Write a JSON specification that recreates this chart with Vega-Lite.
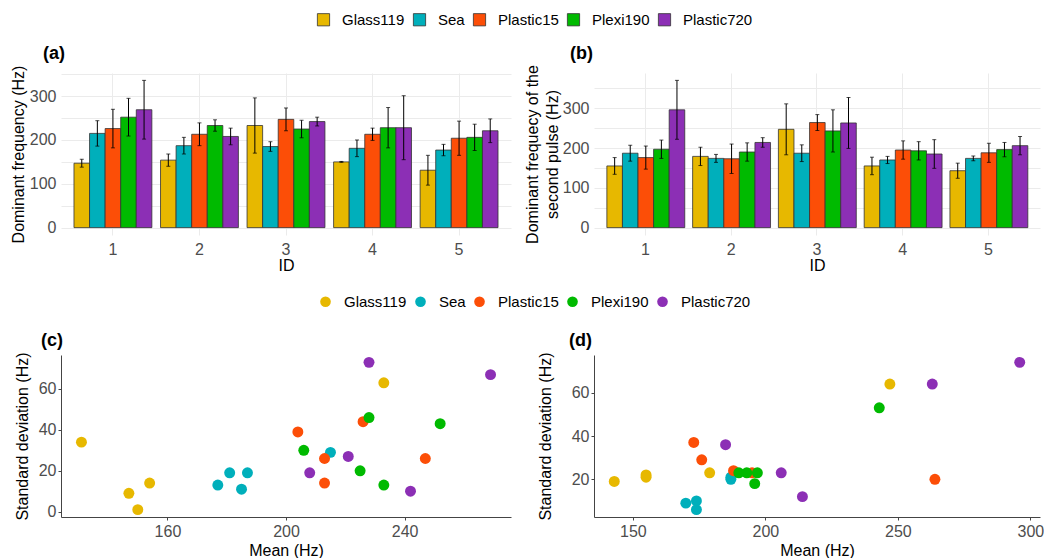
{
  "$schema": "https://vega.github.io/schema/vega-lite/v6.json",
  "background": "white",
  "padding": {"left": 10, "top": 12, "right": 0, "bottom": 0},
  "config": {
    "font": "Liberation Sans",
    "view": {"stroke": null},
    "axis": {"labelFont": "Liberation Sans", "labelFontSize": 16, "labelColor": "#4d4d4d", "titleFont": "Liberation Sans", "titleFontSize": 16, "titleFontWeight": "normal", "titleColor": "black"},
    "legend": {"padding": 0, "labelFont": "Liberation Sans", "labelFontSize": 15, "labelColor": "black"},
    "title": {"font": "Liberation Sans", "fontSize": 18, "fontWeight": "bold", "color": "black", "anchor": "start", "frame": "group"}
  },
  "datasets": {
    "first": [
      {"ID": 1, "material": "Glass119", "mean": 147, "sd": 9},
      {"ID": 2, "material": "Glass119", "mean": 154, "sd": 14},
      {"ID": 3, "material": "Glass119", "mean": 233, "sd": 63},
      {"ID": 4, "material": "Glass119", "mean": 150, "sd": 1},
      {"ID": 5, "material": "Glass119", "mean": 131, "sd": 34},
      {"ID": 1, "material": "Sea", "mean": 215, "sd": 29},
      {"ID": 2, "material": "Sea", "mean": 187, "sd": 19},
      {"ID": 3, "material": "Sea", "mean": 185, "sd": 11},
      {"ID": 4, "material": "Sea", "mean": 181, "sd": 19},
      {"ID": 5, "material": "Sea", "mean": 177, "sd": 13},
      {"ID": 1, "material": "Plastic15", "mean": 226, "sd": 44},
      {"ID": 2, "material": "Plastic15", "mean": 213, "sd": 26},
      {"ID": 3, "material": "Plastic15", "mean": 247, "sd": 26},
      {"ID": 4, "material": "Plastic15", "mean": 213, "sd": 14},
      {"ID": 5, "material": "Plastic15", "mean": 204, "sd": 39},
      {"ID": 1, "material": "Plexi190", "mean": 252, "sd": 43},
      {"ID": 2, "material": "Plexi190", "mean": 233, "sd": 13},
      {"ID": 3, "material": "Plexi190", "mean": 225, "sd": 20},
      {"ID": 4, "material": "Plexi190", "mean": 228, "sd": 46},
      {"ID": 5, "material": "Plexi190", "mean": 206, "sd": 30},
      {"ID": 1, "material": "Plastic720", "mean": 269, "sd": 67},
      {"ID": 2, "material": "Plastic720", "mean": 208, "sd": 19},
      {"ID": 3, "material": "Plastic720", "mean": 242, "sd": 10},
      {"ID": 4, "material": "Plastic720", "mean": 228, "sd": 73},
      {"ID": 5, "material": "Plastic720", "mean": 221, "sd": 27}
    ],
    "second": [
      {"ID": 1, "material": "Glass119", "mean": 155, "sd": 21},
      {"ID": 2, "material": "Glass119", "mean": 179, "sd": 23},
      {"ID": 3, "material": "Glass119", "mean": 247, "sd": 64},
      {"ID": 4, "material": "Glass119", "mean": 155, "sd": 22},
      {"ID": 5, "material": "Glass119", "mean": 143, "sd": 19},
      {"ID": 1, "material": "Sea", "mean": 187, "sd": 20},
      {"ID": 2, "material": "Sea", "mean": 174, "sd": 10},
      {"ID": 3, "material": "Sea", "mean": 187, "sd": 21},
      {"ID": 4, "material": "Sea", "mean": 170, "sd": 9},
      {"ID": 5, "material": "Sea", "mean": 174, "sd": 6},
      {"ID": 1, "material": "Plastic15", "mean": 176, "sd": 29},
      {"ID": 2, "material": "Plastic15", "mean": 173, "sd": 37},
      {"ID": 3, "material": "Plastic15", "mean": 264, "sd": 20},
      {"ID": 4, "material": "Plastic15", "mean": 195, "sd": 23},
      {"ID": 5, "material": "Plastic15", "mean": 188, "sd": 24},
      {"ID": 1, "material": "Plexi190", "mean": 197, "sd": 23},
      {"ID": 2, "material": "Plexi190", "mean": 190, "sd": 23},
      {"ID": 3, "material": "Plexi190", "mean": 243, "sd": 53},
      {"ID": 4, "material": "Plexi190", "mean": 193, "sd": 23},
      {"ID": 5, "material": "Plexi190", "mean": 196, "sd": 18},
      {"ID": 1, "material": "Plastic720", "mean": 296, "sd": 74},
      {"ID": 2, "material": "Plastic720", "mean": 214, "sd": 12},
      {"ID": 3, "material": "Plastic720", "mean": 263, "sd": 64},
      {"ID": 4, "material": "Plastic720", "mean": 185, "sd": 36},
      {"ID": 5, "material": "Plastic720", "mean": 206, "sd": 23}
    ]
  },
  "spacing": 282,
  "bounds": "flush",
  "resolve": {"scale": {"color": "independent"}, "legend": {"color": "independent"}},
  "vconcat": [
    {
      "spacing": 83,
      "bounds": "flush",
      "hconcat": [
        {
          "width": 450,
          "height": 162,
          "title": {"text": "(a)", "dx": -18, "offset": 2},
          "data": {"name": "first"},
          "encoding": {
            "x": {"field": "ID", "type": "ordinal", "scale": {"paddingInner": 0.1, "paddingOuter": 0.15},
                  "axis": {"title": "ID", "labelAngle": 0, "grid": true, "gridColor": "#ebebeb", "bandPosition": 0.5, "ticks": false, "domain": false, "labelPadding": 6, "titlePadding": 0}},
            "xOffset": {"field": "material", "type": "nominal", "sort": ["Glass119", "Sea", "Plastic15", "Plexi190", "Plastic720"], "scale": {"paddingInner": 0, "paddingOuter": 0}},
            "y": {"field": "mean", "type": "quantitative", "scale": {"domain": [-16.8, 352.8], "nice": false, "zero": false},
                  "axis": {"title": "Dominant frequency (Hz)", "values": [0, 50, 100, 150, 200, 250, 300, 350], "labelExpr": "datum.value % 100 === 0 ? datum.label : ''", "grid": true, "gridColor": "#ebebeb", "ticks": false, "domain": false, "labelPadding": 5, "titlePadding": 3}}
          },
          "layer": [
            {"mark": {"type": "bar", "stroke": "#333333", "strokeWidth": 0.8},
             "encoding": {"color": {"field": "material", "type": "nominal",
               "scale": {"domain": ["Glass119", "Sea", "Plastic15", "Plexi190", "Plastic720"], "range": ["#E7B800", "#00AFBB", "#FC4E07", "#00BA00", "#8C2FB5"]},
               "legend": {"orient": "none", "legendX": 255, "legendY": -61, "direction": "horizontal", "title": null, "symbolType": "square", "symbolSize": 150, "symbolStrokeColor": "#333333", "symbolStrokeWidth": 0.8, "symbolOpacity": 1, "labelOffset": 11, "columnPadding": 6}}}},
            {"mark": {"type": "errorbar", "color": "black", "ticks": {"size": 4, "color": "black"}},
             "encoding": {"yError": {"field": "sd"}}}
          ]
        },
        {
          "width": 446,
          "height": 162,
          "title": {"text": "(b)", "dx": -24, "offset": 2},
          "data": {"name": "second"},
          "encoding": {
            "x": {"field": "ID", "type": "ordinal", "scale": {"paddingInner": 0.1, "paddingOuter": 0.15},
                  "axis": {"title": "ID", "labelAngle": 0, "grid": true, "gridColor": "#ebebeb", "bandPosition": 0.5, "ticks": false, "domain": false, "labelPadding": 6, "titlePadding": 0}},
            "xOffset": {"field": "material", "type": "nominal", "sort": ["Glass119", "Sea", "Plastic15", "Plexi190", "Plastic720"], "scale": {"paddingInner": 0, "paddingOuter": 0}},
            "y": {"field": "mean", "type": "quantitative", "scale": {"domain": [-18.5, 388.5], "nice": false, "zero": false},
                  "axis": {"title": ["Dominant frequecy of the", "second pulse (Hz)"], "titleLineHeight": 20, "values": [0, 50, 100, 150, 200, 250, 300, 350], "labelExpr": "datum.value % 100 === 0 ? datum.label : ''", "grid": true, "gridColor": "#ebebeb", "ticks": false, "domain": false, "labelPadding": 5, "titlePadding": 2}}
          },
          "layer": [
            {"mark": {"type": "bar", "stroke": "#333333", "strokeWidth": 0.8},
             "encoding": {"color": {"field": "material", "type": "nominal",
               "scale": {"domain": ["Glass119", "Sea", "Plastic15", "Plexi190", "Plastic720"], "range": ["#E7B800", "#00AFBB", "#FC4E07", "#00BA00", "#8C2FB5"]},
               "legend": {"orient": "none", "legendX": 255, "legendY": -61, "direction": "horizontal", "title": null, "symbolType": "square", "symbolSize": 150, "symbolStrokeColor": "#333333", "symbolStrokeWidth": 0.8, "symbolOpacity": 1, "labelOffset": 11, "columnPadding": 6}}}},
            {"mark": {"type": "errorbar", "color": "black", "ticks": {"size": 4, "color": "black"}},
             "encoding": {"yError": {"field": "sd"}}}
          ]
        }
      ]
    },
    {
      "spacing": 83,
      "bounds": "flush",
      "hconcat": [
        {
          "width": 450,
          "height": 162,
          "title": {"text": "(c)", "dx": -20, "offset": 2},
          "data": {"name": "first"},
          "mark": {"type": "point", "filled": true, "size": 120, "opacity": 1},
          "encoding": {
            "x": {"field": "mean", "type": "quantitative", "scale": {"domain": [124.1, 275.9], "nice": false, "zero": false},
                  "axis": {"title": "Mean (Hz)", "values": [160, 200, 240], "grid": false, "domainColor": "#444444", "tickColor": "#444444", "tickSize": 3, "labelPadding": 3, "titlePadding": 3}},
            "y": {"field": "sd", "type": "quantitative", "scale": {"domain": [-2.6, 76.6], "nice": false, "zero": false},
                  "axis": {"title": "Standard deviation (Hz)", "values": [0, 20, 40, 60], "grid": false, "domainColor": "#444444", "tickColor": "#444444", "tickSize": 3, "labelPadding": 2, "titlePadding": 8}},
            "color": {"field": "material", "type": "nominal",
              "scale": {"domain": ["Glass119", "Sea", "Plastic15", "Plexi190", "Plastic720"], "range": ["#E7B800", "#00AFBB", "#FC4E07", "#00BA00", "#8C2FB5"]},
              "legend": {"orient": "none", "legendX": 257, "legendY": -61, "direction": "horizontal", "title": null, "symbolType": "circle", "symbolSize": 113, "symbolStrokeWidth": 0, "symbolOpacity": 1, "labelOffset": 11, "columnPadding": 6}}
          }
        },
        {
          "width": 446,
          "height": 162,
          "title": {"text": "(d)", "dx": -25, "offset": 2},
          "data": {"name": "second"},
          "mark": {"type": "point", "filled": true, "size": 120, "opacity": 1},
          "encoding": {
            "x": {"field": "mean", "type": "quantitative", "scale": {"domain": [135.35, 303.65], "nice": false, "zero": false},
                  "axis": {"title": "Mean (Hz)", "values": [150, 200, 250, 300], "grid": false, "domainColor": "#444444", "tickColor": "#444444", "tickSize": 3, "labelPadding": 3, "titlePadding": 3}},
            "y": {"field": "sd", "type": "quantitative", "scale": {"domain": [2.6, 77.4], "nice": false, "zero": false},
                  "axis": {"title": "Standard deviation (Hz)", "values": [20, 40, 60], "grid": false, "domainColor": "#444444", "tickColor": "#444444", "tickSize": 3, "labelPadding": 2, "titlePadding": 18}},
            "color": {"field": "material", "type": "nominal",
              "scale": {"domain": ["Glass119", "Sea", "Plastic15", "Plexi190", "Plastic720"], "range": ["#E7B800", "#00AFBB", "#FC4E07", "#00BA00", "#8C2FB5"]},
              "legend": {"orient": "none", "legendX": 257, "legendY": -61, "direction": "horizontal", "title": null, "symbolType": "circle", "symbolSize": 113, "symbolStrokeWidth": 0, "symbolOpacity": 1, "labelOffset": 11, "columnPadding": 6}}
          }
        }
      ]
    }
  ]
}
